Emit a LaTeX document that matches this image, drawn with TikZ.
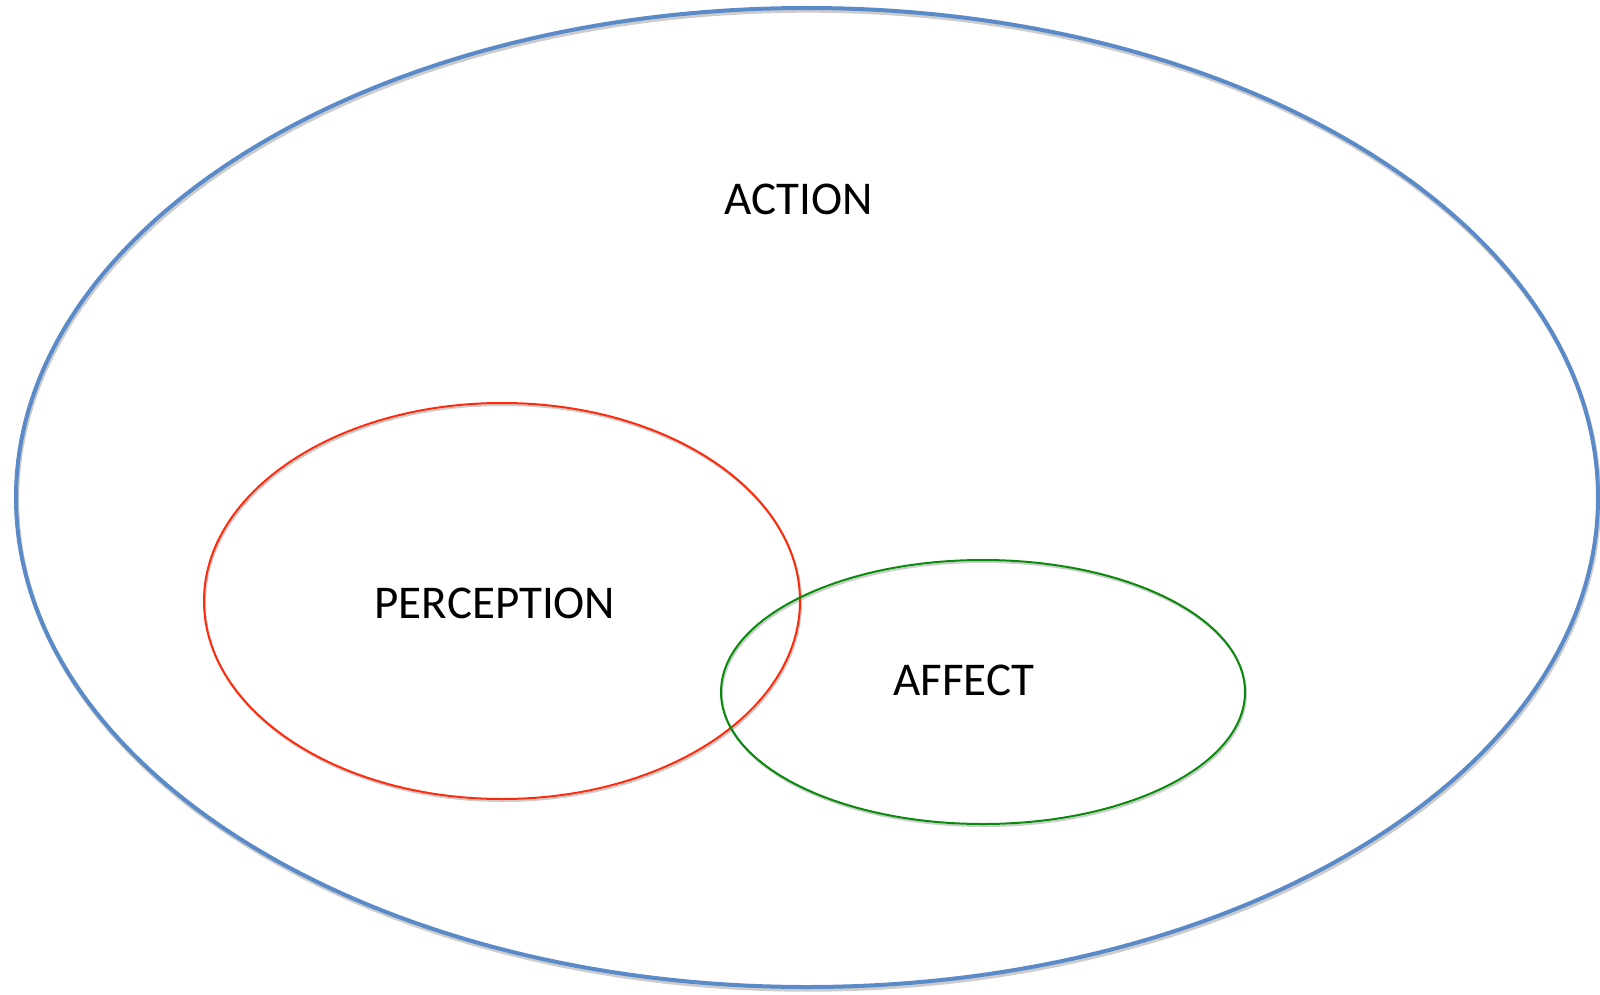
\documentclass[tikz,border=0pt]{standalone}
\usepackage{fontspec}
\setmainfont{Carlito}
\usetikzlibrary{positioning}

\definecolor{actionblue}{HTML}{5A8BC8}
\definecolor{percred}{HTML}{FF2A0A}
\definecolor{affgreen}{HTML}{0A8A0A}

\tikzset{
    label/.style={font=\fontsize{23.5}{28}\selectfont,inner sep=0pt},
    shade/.style={draw=black!20,line width=#1}
}

\begin{document}
\begin{tikzpicture}[x=0.5pt,y=0.5pt]
    \useasboundingbox (0,0) rectangle (1600,-995);
    % soft shadows
    \draw[shade=2.2pt] (808,-500) ellipse [x radius=791, y radius=489.5];
    \draw[shade=1pt] (503,-603) ellipse [x radius=298, y radius=198];
    \draw[shade=1pt] (984,-694) ellipse [x radius=262, y radius=132];
    % sets
    \draw[actionblue,line width=2pt] (807,-497.5) ellipse [x radius=791, y radius=489.5];
    \draw[percred,line width=1pt] (502,-601) ellipse [x radius=298, y radius=198];
    \draw[affgreen,line width=1pt] (983,-692) ellipse [x radius=262, y radius=132];
    \node[label] (action) at (799,-199) {ACTION};
    \node[label] (perception) at (495,-603) {PERCEPTION};
    \node[label] (affect) at (964,-680) {AFFECT};
\end{tikzpicture}
\end{document}
